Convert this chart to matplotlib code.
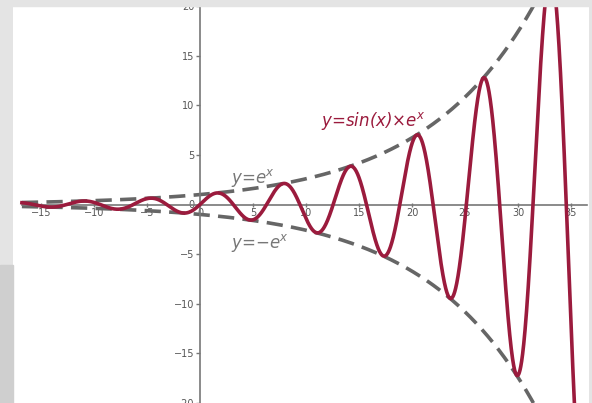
import numpy as np
import matplotlib
matplotlib.use('Agg')
import matplotlib.pyplot as plt
from matplotlib.patches import Rectangle

# curve: y = sin(x) * e^(x/k), envelope +-e^(x/k)
x_start, x_end = -16.8, 36.0
growth = 10.5          # envelope e-folding length
x_ticks = [-15, -10, -5, 0, 5, 10, 15, 20, 25, 30, 35]
y_ticks = [-20, -15, -10, -5, 0, 5, 10, 15, 20]
labels = ["y=e$^x$", "y=\u2212e$^x$", "y=sin(x)\u00d7e$^x$"]

red = '#9b1b3d'
grey = '#666666'
frame = '#e4e4e4'

x = np.linspace(x_start, x_end, 3000)
env = np.exp(x / growth)
y = np.sin(x) * env

plt.rcParams['mathtext.fontset'] = 'dejavusans'

fig = plt.figure(figsize=(5.92, 4.03), dpi=100, facecolor=frame)
# darker strip at lower left of the screenshot frame
fig.patches.append(Rectangle((0, 0), 13/592, 1 - 265/403, transform=fig.transFigure,
                             color='#cfcfcf', zorder=0))
ax = fig.add_axes([13/592, 0, (589-13)/592, (403-6)/403])
ax.set_facecolor('white')

ax.plot(x, env, color=grey, lw=2.6, dashes=(4.5, 2.3), zorder=2)
ax.plot(x, -env, color=grey, lw=2.6, dashes=(4.5, 2.3), zorder=2)
ax.plot(x, y, color=red, lw=2.6, zorder=3)

ax.set_xlim(-17.64, 36.7)
ax.set_ylim(-19.7, 20)

for s in ['top', 'right']:
    ax.spines[s].set_visible(False)
ax.spines['left'].set_position(('data', 0))
ax.spines['bottom'].set_position(('data', 0))
ax.spines['bottom'].set_bounds(-16.8, 36.5)
for s in ['left', 'bottom']:
    ax.spines[s].set_color('#777777')
    ax.spines[s].set_linewidth(1.2)

ax.set_xticks(x_ticks)
ax.set_yticks(y_ticks)
ax.tick_params(axis='both', colors='#777777', labelcolor='#555555', labelsize=7,
               length=3, width=1)
ax.tick_params(axis='x', direction='inout', pad=1)
ax.tick_params(axis='y', direction='out', pad=1)

tf = dict(fontsize=12, fontstyle='italic')
ax.text(2.9, 2.2, labels[0], color='#777777', **tf)
ax.text(2.9, -4.4, labels[1], color='#777777', **tf)
ax.text(11.4, 7.9, labels[2], color=red, **tf)

# top strip of the frame covers the upper half of the "20" label
fig.add_artist(Rectangle((0, 1 - 6/403), 1, 6/403, transform=fig.transFigure,
                         color=frame, zorder=10))

fig.savefig('out.png', dpi=100, facecolor=fig.get_facecolor())
